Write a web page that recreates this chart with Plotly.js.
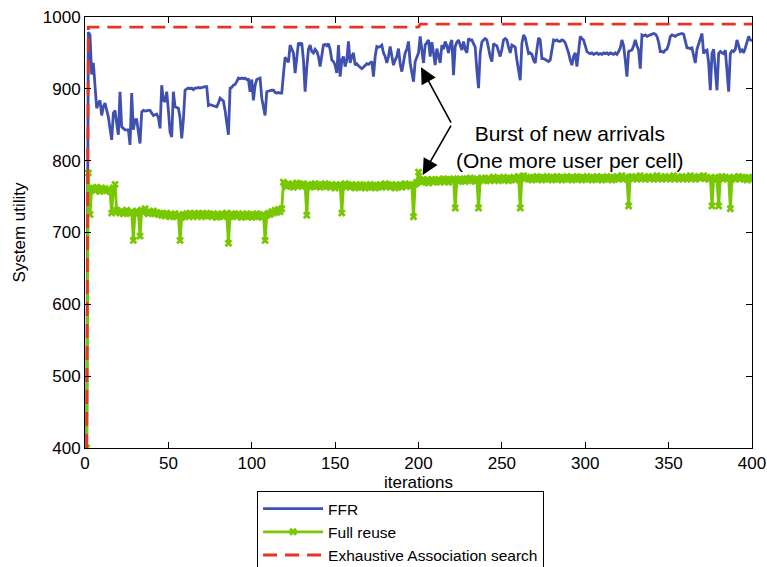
<!DOCTYPE html>
<html>
<head>
<meta charset="utf-8">
<script src="https://cdn.plot.ly/plotly-3.0.1.min.js"></script>
<style>html,body{margin:0;padding:0;background:#fff;}#chart{width:767px;height:567px;}</style>
</head>
<body>
<div id="chart"></div>
<script>
// FFR system utility per iteration (starting at iteration 1)
const ffr = [400,979,975,920,936,905,873,880,884,863,
875,880,870,861,845,829,866,870,852,836,
896,847,845,843,843,843,822,894,843,857,
857,840,824,868,870,869,870,870,870,866,
863,864,865,860,845,905,884,882,896,870,
840,833,896,875,874,873,860,831,857,898,
900,901,900,901,899,901,901,902,901,902,
902,903,903,877,878,877,876,875,875,880,
887,885,883,870,850,836,901,902,905,906,
910,915,914,915,914,915,913,913,896,913,
884,905,913,914,915,887,875,863,896,897,
898,898,898,895,894,895,894,894,920,944,
940,937,961,955,950,922,945,964,962,964,
940,896,930,955,961,
952,950,955,952,945,931,950,961,962,960,
963,955,940,938,933,922,961,917,940,945,
931,940,966,936,945,950,933,935,932,930,
928,930,932,935,934,936,938,917,945,959,
958,959,961,950,945,936,945,959,945,933,
940,945,956,935,924,936,950,955,966,936,
920,910,938,945,950,973,950,936,961,965,
968,945,965,950,933,956,945,936,961,955,
966,960,950,962,968,919,959,965,968,960,
954,966,955,950,970,968,968,963,958,926,
901,950,965,968,970,968,954,945,938,963,
961,960,952,945,955,968,970,968,958,950,
961,960,958,940,925,912,963,975,971,960,
949,950,948,940,936,955,971,968,942,942,
941,940,938,940,955,968,967,968,966,966,
968,967,964,958,950,940,933,945,950,931,
955,973,970,968,960,952,950,949,950,948,
949,950,948,949,948,950,949,950,948,950,
949,948,950,948,952,957,968,960,940,917,
952,953,954,960,968,960,954,928,975,974,
975,973,974,975,976,977,976,973,965,952,
952,951,954,955,962,973,975,974,973,975,
976,977,977,976,965,957,957,956,957,945,
936,955,962,968,977,949,953,954,936,898,
949,955,930,898,949,952,950,949,954,930,
896,949,953,952,955,968,960,952,954,950,
957,965,973,968,967];

// Full reuse system utility per iteration (starting at iteration 1)
const fullReuse = [400,783,725,760,762,758,763,760,757,762,
759,761,758,760,757,727,762,767,731,729,
727,730,726,729,731,728,726,729,689,728,
730,727,695,731,729,733,728,726,729,727,
730,726,728,725,727,724,726,723,727,724,
722,725,723,726,722,724,689,721,725,722,
726,723,727,724,722,726,723,727,725,722,
726,724,727,723,725,722,726,724,721,725,
723,726,722,724,727,685,722,726,723,725,
722,726,724,721,725,723,726,722,724,721,
725,723,726,722,724,721,725,689,724,727,
725,729,727,731,728,732,729,733,770,767,
764,768,765,767,763,766,769,765,767,764,
768,765,724,766,763,767,765,768,764,766,
763,767,765,768,764,766,763,767,765,762,
766,764,767,727,765,768,764,766,763,767,
765,762,766,764,767,763,765,762,766,764,
767,763,765,762,766,764,767,763,765,768,
764,766,763,767,765,762,766,764,767,763,
766,768,765,767,764,766,722,767,770,784,
773,770,774,771,773,769,772,774,770,773,
771,774,770,772,775,771,773,770,774,772,
775,734,773,771,775,772,774,771,775,773,
776,772,774,771,775,734,773,776,772,775,
773,776,772,774,777,773,775,772,776,774,
777,773,775,772,776,774,777,773,775,778,
734,776,779,775,777,774,776,773,777,775,
778,774,776,773,777,775,778,774,776,773,
777,775,778,774,776,773,777,775,778,774,
776,773,777,775,778,774,776,773,777,775,
778,774,776,773,777,775,778,774,776,773,
777,775,778,774,776,773,777,775,778,774,
776,779,775,777,774,737,776,778,775,777,
774,776,779,775,777,774,776,778,775,777,
774,776,779,775,777,774,776,778,775,777,
774,776,779,775,777,774,776,778,775,777,
774,776,779,775,777,774,776,778,775,777,
779,775,777,774,776,737,775,777,774,737,
776,778,775,777,774,776,733,775,777,774,
776,778,775,777,774,776,773,777,775,774];

// Exhaustive association search (step values)
const exhaustiveIter = [1, 2, 200, 201, 400];
const exhaustive = [400, 986, 986, 990, 990];

const xTicks = [0, 50, 100, 150, 200, 250, 300, 350, 400];
const yTicks = [400, 500, 600, 700, 800, 900, 1000];

const seriesNames = ['FFR', 'Full reuse', 'Exhaustive Association search'];
const annotationText = 'Burst of new arrivals<br>(One more user per cell)';

const ffrIter = ffr.map((_, k) => k + 1);
const fullIter = fullReuse.map((_, k) => k + 1);

const FONT = '"Liberation Sans", Arial, Helvetica, sans-serif';

const traces = [
  {x: ffrIter, y: ffr, type: 'scatter', mode: 'lines', name: seriesNames[0],
   line: {color: '#4050b0', width: 2.8}},
  {x: fullIter, y: fullReuse, type: 'scatter', mode: 'lines+markers', name: seriesNames[1],
   line: {color: '#78c800', width: 2.8},
   marker: {symbol: 'x', size: 7, color: '#78c800', line: {width: 0}}},
  {x: exhaustiveIter, y: exhaustive, type: 'scatter', mode: 'lines', name: seriesNames[2],
   line: {color: '#e83424', width: 2.8, dash: '14px,8px'}}
];

const layout = {
  width: 767, height: 567,
  margin: {l: 85, r: 15, t: 17, b: 119, autoexpand: false},
  paper_bgcolor: '#fff', plot_bgcolor: '#fff',
  font: {family: FONT, size: 17, color: '#000'},
  showlegend: true,
  legend: {x: 0.258, y: -0.1, xanchor: 'left', yanchor: 'top',
           bgcolor: '#fff', bordercolor: '#000', borderwidth: 1,
           font: {family: FONT, size: 15.5, color: '#000'},
           itemwidth: 60, tracegroupgap: 0},
  xaxis: {range: [0, 400], tickvals: xTicks, ticktext: xTicks.map(String),
          showgrid: false, zeroline: false, showline: true, mirror: 'ticks',
          linecolor: '#000', linewidth: 1, ticks: 'inside', ticklen: 6,
          tickcolor: '#000', tickfont: {family: FONT, size: 17},
          title: {text: 'iterations', font: {family: FONT, size: 17}, standoff: 1}},
  yaxis: {range: [400, 1000], tickvals: yTicks, ticktext: yTicks.map(String),
          showgrid: false, zeroline: false, showline: true, mirror: 'ticks',
          linecolor: '#000', linewidth: 1, ticks: 'inside', ticklen: 6,
          tickcolor: '#000', tickfont: {family: FONT, size: 17},
          title: {text: 'System utility', font: {family: FONT, size: 17}, standoff: 12}},
  annotations: [
    {x: 291, y: 819, xref: 'x', yref: 'y', text: annotationText, showarrow: false,
     font: {family: FONT, size: 21, color: '#000'}, align: 'center'},
    {x: 201.5, y: 930, xref: 'x', yref: 'y', ax: 220, ay: 851, axref: 'x', ayref: 'y',
     text: '', showarrow: true, arrowhead: 2, arrowsize: 2, arrowwidth: 1.6, arrowcolor: '#000'},
    {x: 202.5, y: 780, xref: 'x', yref: 'y', ax: 220, ay: 851, axref: 'x', ayref: 'y',
     text: '', showarrow: true, arrowhead: 2, arrowsize: 2, arrowwidth: 1.6, arrowcolor: '#000'}
  ]
};

Plotly.newPlot('chart', traces, layout, {displayModeBar: false, staticPlot: true});
</script>
</body>
</html>
